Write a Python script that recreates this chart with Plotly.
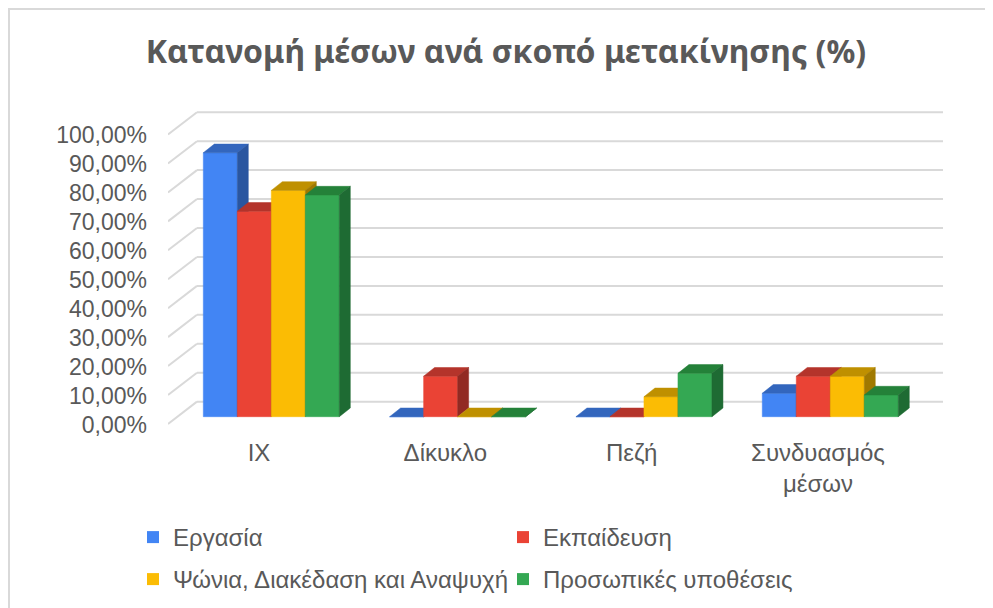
import plotly.graph_objects as go

# ---------------- data ----------------
categories = ["IX", "Δίκυκλο", "Πεζή", "Συνδυασμός μέσων"]
category_labels = ["IX", "Δίκυκλο", "Πεζή", "Συνδυασμός<br>μέσων"]
series_names = ["Εργασία", "Εκπαίδευση", "Ψώνια, Διακέδαση και Αναψυχή", "Προσωπικές υποθέσεις"]
ergasia = [91.2, 0.0, 0.0, 8.1]
ekpaideusi = [71.0, 14.0, 0.0, 14.0]
psonia = [78.2, 0.0, 6.9, 14.0]
prosopikes = [76.6, 0.0, 15.0, 7.5]
y_ticks = [0, 10, 20, 30, 40, 50, 60, 70, 80, 90, 100]
y_tick_labels = [f"{v:.2f}".replace(".", ",") + "%" for v in y_ticks]

series_values = [ergasia, ekpaideusi, psonia, prosopikes]

# ---------------- style ----------------
front_cols = ["#4285F4", "#EA4335", "#FBBC04", "#34A853"]
top_cols = ["#3366BD", "#B4342B", "#BF9000", "#248139"]
side_cols = ["#2A56A0", "#922A23", "#A07900", "#1E6B33"]

OFF = 8                      # page margin of the browser body
W, H = 993 - OFF, 608 - OFF
L, R, T, B = 168 - OFF, 943 - OFF, 105 - OFF, 430 - OFF
x_range = [-0.4885, 3.671]
y_range = [-4.596, 107.7]
bar_w = 0.1825
grp_shift = 0.066
dx = 0.059      # depth offset (x units)
dy = 3.0        # depth offset (y units)
back_off = 5.2  # back wall offset (y units)
front_off = -2.5
label_off = 2.7
wall_left = -0.333
grid_col = "#D9D9D9"
txt_col = "#595959"
font_fam = "Liberation Sans, Arial, sans-serif"

def px_x(p):
    return (p - OFF - L) / (R - L)

def px_y(p):
    return (B - (p - OFF)) / (B - T)

fig = go.Figure()

n = len(series_values)
grp_w = bar_w * n
for i, vals in enumerate(series_values):
    fx, fy, tx, ty, sx, sy = [], [], [], [], [], []
    for k, v in enumerate(vals):
        x0 = k + grp_shift - grp_w / 2 + i * bar_w
        x1 = x0 + bar_w
        fx += [x0, x1, x1, x0, x0, None]
        fy += [0, 0, v, v, 0, None]
        tx += [x0, x1, x1 + dx, x0 + dx, x0, None]
        ty += [v, v, v + dy, v + dy, v, None]
        sx += [x1, x1, x1 + dx, x1 + dx, x1, None]
        sy += [0, v, v + dy, dy, 0, None]
    for xs, ys, col in ((fx, fy, front_cols[i]), (tx, ty, top_cols[i]), (sx, sy, side_cols[i])):
        fig.add_trace(go.Scatter(x=xs, y=ys, mode="lines", fill="toself", fillcolor=col,
                                 line=dict(color=col, width=0.5), showlegend=False,
                                 hoverinfo="skip"))

# invisible trace so the label axis is drawn
fig.add_trace(go.Scatter(x=[None], y=[None], yaxis="y2", showlegend=False, hoverinfo="skip"))

# legend entries
for i, name in enumerate(series_names):
    fig.add_trace(go.Scatter(x=[None], y=[None], mode="markers", name=name,
                             marker=dict(symbol="square", size=12, color=front_cols[i]),
                             legend="legend" if i < 2 else "legend2"))

# gridlines (back wall + left wall diagonals)
shapes = []
for v in y_ticks:
    shapes.append(dict(type="line", xref="x", yref="y", x0=wall_left, x1=x_range[1],
                       y0=v + back_off, y1=v + back_off, layer="below",
                       line=dict(color=grid_col, width=2)))
    shapes.append(dict(type="line", xref="x", yref="y", x0=x_range[0], x1=wall_left,
                       y0=v + front_off, y1=v + back_off, layer="below",
                       line=dict(color=grid_col, width=2)))
# chart border (left and top)
shapes.append(dict(type="line", xref="paper", yref="paper", x0=px_x(9), x1=px_x(9),
                   y0=px_y(8), y1=px_y(620), line=dict(color=grid_col, width=2)))
shapes.append(dict(type="line", xref="paper", yref="paper", x0=px_x(8), x1=px_x(1010),
                   y0=px_y(9), y1=px_y(9), line=dict(color=grid_col, width=2)))

legend_common = dict(orientation="h", xref="container", yref="container",
                     xanchor="left", yanchor="middle", entrywidth=325,
                     font=dict(family=font_fam, size=24, color=txt_col),
                     bgcolor="rgba(0,0,0,0)", borderwidth=0)

fig.update_layout(
    width=W, height=H,
    margin=dict(l=L, r=W - R, t=T, b=H - B),
    paper_bgcolor="white", plot_bgcolor="white",
    shapes=shapes,
    title=dict(text="<b>Κατανομή μέσων ανά σκοπό μετακίνησης (%)</b>",
               x=(506 - OFF) / W, xanchor="center", xref="container",
               y=1 - (52 - OFF) / H, yanchor="middle", yref="container",
               font=dict(family="Noto Sans, sans-serif", size=32, color=txt_col)),
    xaxis=dict(range=x_range, showgrid=False, zeroline=False, showline=False,
               tickvals=list(range(len(categories))), ticktext=category_labels,
               ticks="", ticklabelstandoff=6,
               tickfont=dict(family=font_fam, size=24, color=txt_col)),
    yaxis=dict(range=y_range, showgrid=False, zeroline=False, showline=False,
               showticklabels=False),
    yaxis2=dict(range=[y_range[0] + label_off, y_range[1] + label_off], overlaying="y",
                side="left", showgrid=False, zeroline=False, showline=False,
                tickvals=y_ticks, ticktext=y_tick_labels, ticks="", ticklabelstandoff=20,
                tickfont=dict(family=font_fam, size=23, color=txt_col)),
    legend=dict(x=(133 - OFF) / W, y=1 - (537.5 - OFF) / H, **legend_common),
    legend2=dict(x=(133 - OFF) / W, y=1 - (579.5 - OFF) / H, **legend_common),
    showlegend=True,
)

fig.write_html("out.html")
